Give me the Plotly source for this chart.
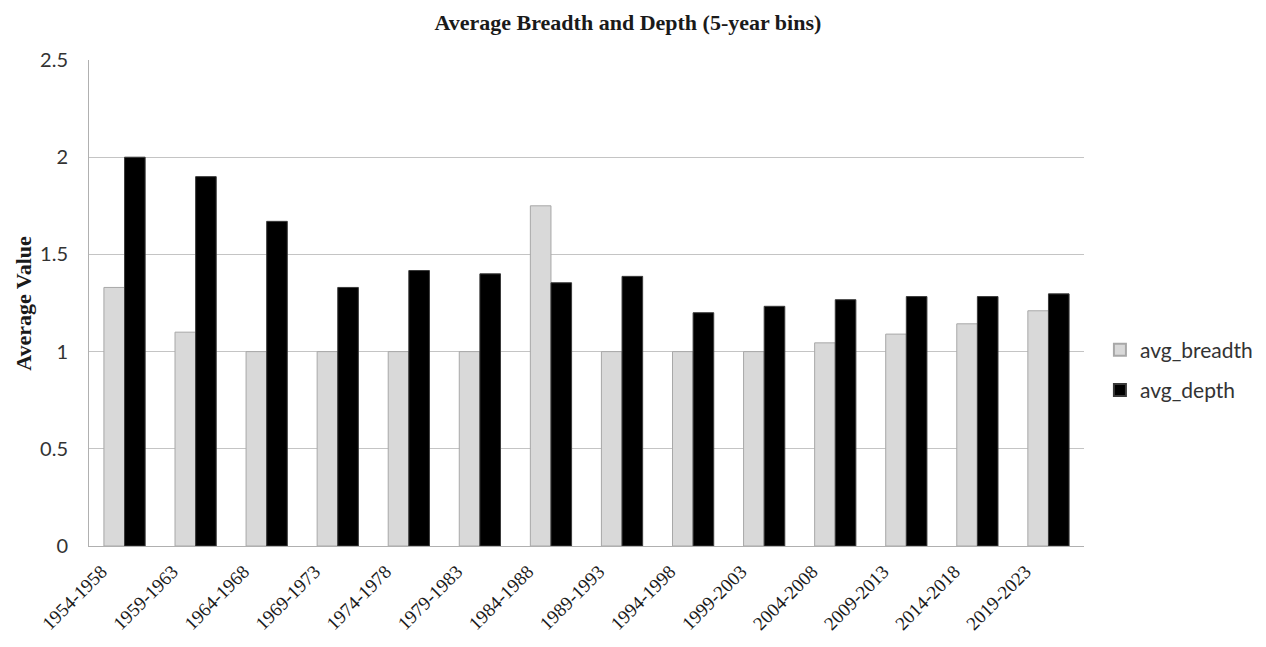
import plotly.graph_objects as go

bins = ["1954-1958", "1959-1963", "1964-1968", "1969-1973", "1974-1978",
        "1979-1983", "1984-1988", "1989-1993", "1994-1998", "1999-2003",
        "2004-2008", "2009-2013", "2014-2018", "2019-2023"]
avg_breadth = [1.33, 1.10, 1.00, 1.00, 1.00, 1.00, 1.75, 1.00, 1.00, 1.00,
               1.045, 1.09, 1.143, 1.21]
avg_depth = [2.00, 1.90, 1.67, 1.33, 1.417, 1.40, 1.354, 1.387, 1.20, 1.233,
             1.267, 1.283, 1.283, 1.297]
y_ticks = [0, 0.5, 1, 1.5, 2, 2.5]
y_tick_text = ["0", "0.5", "1", "1.5", "2", "2.5"]

serif = "Liberation Serif, Times New Roman, serif"
sans = "Lato, Open Sans, sans-serif"

fig = go.Figure()
fig.add_trace(go.Bar(
    x=bins, y=avg_breadth, name="avg_breadth", legendgroup="b",
    marker=dict(color="#d9d9d9", line=dict(color="#a8a8a8", width=1)),
))
fig.add_trace(go.Bar(
    x=bins, y=avg_depth, name="avg_depth", legendgroup="d",
    marker=dict(color="#000000", line=dict(color="#3a3a3a", width=1)),
))

fig.update_layout(
    width=1266, height=647,
    margin=dict(l=89, r=182, t=60, b=101, autoexpand=False),
    paper_bgcolor="white", plot_bgcolor="white",
    barmode="group", bargap=0.42, bargroupgap=0,
    title=dict(
        text="<b>Average Breadth and Depth (5-year bins)</b>",
        x=0.496, xref="container", xanchor="center",
        y=0.965, yref="container", yanchor="middle",
        font=dict(family=serif, size=22, color="#1a1a1a"),
    ),
    legend=dict(
        x=1.016, xanchor="left", y=0.362, yanchor="middle",
        font=dict(family=sans, size=21, color="#333333"),
        tracegroupgap=10, itemsizing="constant",
        bgcolor="rgba(0,0,0,0)",
    ),
    showlegend=True,
)

# y-axis title drawn as a rotated annotation so the plot area keeps fixed margins
fig.add_annotation(
    text="<b>Average Value</b>", textangle=-90,
    xref="paper", x=-0.0665, xanchor="center",
    yref="paper", y=0.5, yanchor="middle",
    showarrow=False,
    font=dict(family=serif, size=22, color="#1a1a1a"),
)

fig.update_xaxes(
    type="category", automargin=False,
    tickangle=-45,
    tickfont=dict(family=serif, size=19, color="#1a1a1a"),
    ticklabelshift=-23, ticklabelstandoff=6,
    showline=True, linecolor="#b0b0b0", linewidth=1,
    showgrid=False, ticks="",
)
fig.update_yaxes(
    range=[0, 2.5], automargin=False,
    tickvals=y_ticks, ticktext=y_tick_text,
    tickfont=dict(family=sans, size=20, color="#333333"),
    showgrid=True, gridcolor="#c4c4c4", gridwidth=1,
    showline=True, linecolor="#b0b0b0", linewidth=1,
    zeroline=False, ticks="outside", ticklen=16, tickcolor="white",
)

fig.write_html("out.html")
